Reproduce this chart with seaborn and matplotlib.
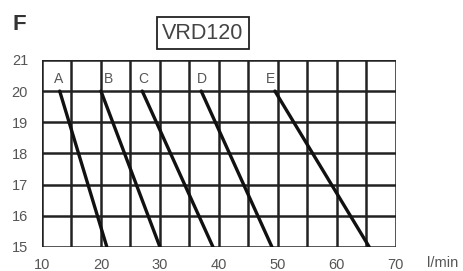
import matplotlib
matplotlib.use("Agg")
import matplotlib.pyplot as plt
import seaborn as sns
import pandas as pd

curves = ["A", "B", "C", "D", "E"]
flow_at_20 = [13.0, 20.0, 27.0, 37.0, 49.5]
flow_at_15 = [21.0, 30.0, 39.0, 49.0, 65.5]
label_x = [12.8, 21.2, 27.1, 37.1, 48.8]
pressure_top = 20
pressure_bottom = 15
x_ticks = [10, 20, 30, 40, 50, 60, 70]
y_ticks = [15, 16, 17, 18, 19, 20, 21]
x_unit = "l/min"
title = "VRD120"
panel = "F"

rows = []
for c, x0, x1 in zip(curves, flow_at_20, flow_at_15):
    rows.append({"curve": c, "flow": x0, "pressure": pressure_top})
    rows.append({"curve": c, "flow": x1, "pressure": pressure_bottom})
df = pd.DataFrame(rows)

sns.set_style("white")
plt.rcParams["font.family"] = ["Liberation Sans", "DejaVu Sans"]

fig = plt.figure(figsize=(4.64, 2.71), dpi=100)
ax = fig.add_axes([0.0905, 0.0886, 0.7625, 0.6904])

sns.lineplot(data=df, x="flow", y="pressure", hue="curve",
             palette=["#111111"] * len(curves), linewidth=2.4,
             legend=False, ax=ax, zorder=3)

ax.set_xlim(10, 70)
ax.set_ylim(15, 21)
ax.set_xticks(list(range(10, 71, 5)), minor=False)
ax.set_yticks(y_ticks)
ax.grid(True, color="#222222", linewidth=1.8)
ax.set_axisbelow(True)
ax.set_xticklabels([str(v) if v in x_ticks else "" for v in range(10, 71, 5)])
ax.tick_params(axis="both", length=0, labelsize=10.5, labelcolor="#555555")
ax.tick_params(axis="y", pad=10)
ax.tick_params(axis="x", pad=8)
for s in ax.spines.values():
    s.set_visible(False)
ax.set_xlabel("")
ax.set_ylabel("")

for c, lx in zip(curves, label_x):
    ax.text(lx, 20.15, c, ha="center", va="bottom", fontsize=10, color="#555555")

fig.text(0.92, 0.03, x_unit, ha="left", va="center", fontsize=10.5, color="#555555")
fig.text(0.028, 0.908, panel, ha="left", va="center", fontsize=16, fontweight="bold", color="#333333")
fig.text(0.4375, 0.878, title, ha="center", va="center", fontsize=15.5, color="#444444",
         bbox=dict(boxstyle="square,pad=0.25", facecolor="white", edgecolor="#222222", linewidth=1.3))

fig.savefig("out.png", dpi=100)
